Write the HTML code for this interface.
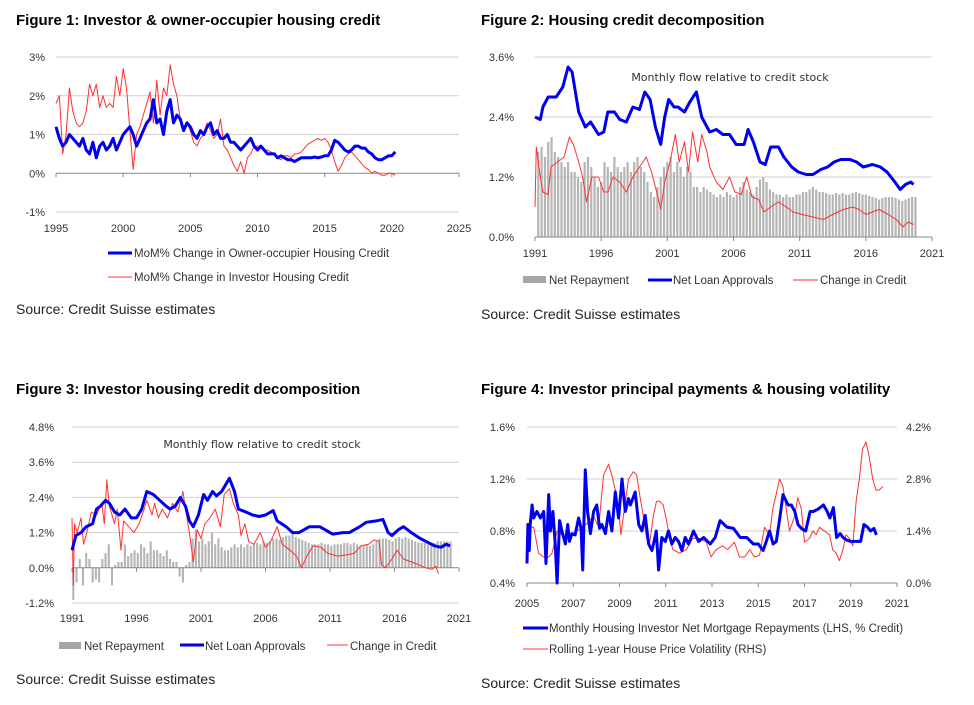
<!DOCTYPE html>
<html><head><meta charset="utf-8"><style>
body{margin:0;background:#fff;}
svg{display:block;font-family:"Liberation Sans",Arial,sans-serif;}
.t{font-size:15px;font-weight:bold;fill:#000}
.s{font-size:14px;fill:#222}
.tk{font-size:11px;fill:#333}
.lg{font-size:11.5px;fill:#333}
.an{font-size:11px;fill:#333;font-family:"DejaVu Sans","Liberation Sans",sans-serif}
</style></head><body>
<svg id="root" width="974" height="705" viewBox="0 0 974 705">
<text class="t" x="16" y="25">Figure 1: Investor &amp; owner-occupier housing credit</text>
<text class="t" x="481" y="25">Figure 2: Housing credit decomposition</text>
<text class="t" x="16" y="394">Figure 3: Investor housing credit decomposition</text>
<text class="t" x="481" y="394">Figure 4: Investor principal payments &amp; housing volatility</text>
<text class="s" x="16" y="314">Source: Credit Suisse estimates</text>
<text class="s" x="481" y="319">Source: Credit Suisse estimates</text>
<text class="s" x="16" y="684">Source: Credit Suisse estimates</text>
<text class="s" x="481" y="688">Source: Credit Suisse estimates</text>
<text class="an" x="730" y="81" text-anchor="middle">Monthly flow relative to credit stock</text>
<text class="an" x="262" y="448" text-anchor="middle">Monthly flow relative to credit stock</text>
<!-- legends -->
<line x1="108" y1="253" x2="132" y2="253" stroke="#0000ee" stroke-width="3"/>
<text class="lg" x="134" y="257">MoM% Change in Owner-occupier Housing Credit</text>
<line x1="108" y1="277" x2="132" y2="277" stroke="#ff3030" stroke-width="1"/>
<text class="lg" x="134" y="281">MoM% Change in Investor Housing Credit</text>

<rect x="523" y="276" width="23" height="7" fill="#a6a6a6"/>
<text class="lg" x="549" y="284">Net Repayment</text>
<line x1="648" y1="280" x2="672" y2="280" stroke="#0000ee" stroke-width="3"/>
<text class="lg" x="673" y="284">Net Loan Approvals</text>
<line x1="793" y1="280" x2="818" y2="280" stroke="#ff3030" stroke-width="1"/>
<text class="lg" x="820" y="284">Change in Credit</text>

<rect x="59" y="642" width="22" height="7" fill="#a6a6a6"/>
<text class="lg" x="84" y="650">Net Repayment</text>
<line x1="180" y1="645" x2="204" y2="645" stroke="#0000ee" stroke-width="3"/>
<text class="lg" x="205" y="650">Net Loan Approvals</text>
<line x1="327" y1="645" x2="348" y2="645" stroke="#ff3030" stroke-width="1"/>
<text class="lg" x="350" y="650">Change in Credit</text>

<line x1="523" y1="628" x2="548" y2="628" stroke="#0000ee" stroke-width="3"/>
<text class="lg" x="549" y="632">Monthly Housing Investor Net Mortgage Repayments (LHS, % Credit)</text>
<line x1="523" y1="649" x2="548" y2="649" stroke="#ff3030" stroke-width="1"/>
<text class="lg" x="549" y="653">Rolling 1-year House Price Volatility (RHS)</text>
</svg>
<script>
// ---------- Figure 1 data (quarterly from 1995) ----------
const c1Start = 1995;
const c1Owner = [1.2,0.9,0.7,0.8, 1.0,0.9,0.8,0.7, 0.9,0.6,0.5,0.8, 0.4,0.7,0.8,0.6, 0.7,0.9,0.6,0.8, 1.0,1.1,1.2,1.0, 0.7,0.9,1.1,1.3, 1.4,1.9,1.3,1.4, 1.0,1.6,1.9,1.3, 1.5,1.4,1.1,1.3, 1.2,1.0,0.9,1.1, 1.0,1.2,1.3,1.0, 1.1,0.9,0.9,1.0, 0.8,0.8,0.7,0.6, 0.7,0.8,0.9,0.7, 0.6,0.7,0.6,0.5, 0.5,0.5,0.4,0.45, 0.4,0.35,0.35,0.3, 0.35,0.4,0.4,0.4, 0.4,0.42,0.4,0.42, 0.45,0.45,0.6,0.85, 0.8,0.7,0.6,0.55, 0.6,0.7,0.7,0.65, 0.65,0.55,0.5,0.4, 0.35,0.35,0.4,0.45, 0.45,0.55];
const c1Investor = [1.8,2.0,0.5,1.0, 2.2,1.6,1.3,1.2, 1.3,1.6,2.3,2.0, 2.3,1.7,2.0,1.7, 1.8,1.7,2.5,2.0, 2.7,2.2,1.1,0.1, 1.0,1.2,1.5,1.8, 2.1,1.3,2.4,1.5, 2.2,2.0,2.8,2.3, 2.0,1.4,1.2,1.3, 1.1,0.8,0.7,0.9, 1.0,1.3,1.1,0.9, 1.0,1.4,0.7,0.6, 0.4,0.2,0.05,0.3, 0.0,0.4,0.5,0.7, 0.7,0.7,0.6,0.6, 0.55,0.5,0.4,0.35, 0.45,0.45,0.4,0.5, 0.5,0.55,0.65,0.75, 0.8,0.85,0.9,0.85, 0.9,0.8,0.6,0.3, 0.05,0.2,0.4,0.5, 0.55,0.45,0.35,0.25, 0.15,0.1,0.0,0.05, 0.0,-0.05,-0.05,0.0, 0.0,-0.05];
const c1YTicks = [3,2,1,0,-1];
const c1XTicks = [1995,2000,2005,2010,2015,2020,2025];

// ---------- Figure 2 data ----------
const c2BarStart = 1991.25;
const c2Repay = [1.7,1.8,1.6, 1.9,2.0,1.7,1.6, 1.5,1.4,1.5,1.3, 1.3,1.2,1.1,1.5, 1.6,1.4,1.2,1.0, 1.1,1.5,1.4,1.3, 1.6,1.4,1.3,1.4, 1.5,1.3,1.5,1.6, 1.4,1.3,1.1,0.9, 0.8,1.0,1.2,1.4, 1.5,1.6,1.3,1.5, 1.4,1.2,1.4,1.3, 1.0,1.0,0.9,1.0, 0.95,0.9,0.85,0.8, 0.85,0.8,0.9,0.85, 0.8,0.85,1.0,1.1, 0.95,0.9,0.85,1.0, 1.15,1.2,1.1,0.95, 0.9,0.85,0.85,0.8, 0.85,0.8,0.8,0.85, 0.85,0.9,0.9,0.95, 1.0,0.95,0.9,0.9, 0.88,0.85,0.85,0.88, 0.85,0.88,0.85,0.85, 0.88,0.9,0.88,0.85, 0.85,0.82,0.8,0.78, 0.75,0.78,0.8,0.8, 0.8,0.78,0.75,0.72, 0.75,0.78,0.8,0.8];
const c2ApprovalYears = [1991.0,1991.4,1991.6,1992.0,1992.6,1993.1,1993.5,1993.8,1994.3,1994.8,1995.2,1995.8,1996.2,1996.5,1997.0,1997.4,1997.9,1998.4,1998.9,1999.3,1999.7,2000.1,2000.5,2000.8,2001.1,2001.5,2001.8,2002.3,2002.7,2003.2,2003.6,2004.2,2004.7,2005.2,2005.7,2006.2,2006.8,2007.1,2007.5,2008.0,2008.4,2008.8,2009.4,2009.8,2010.4,2010.9,2011.5,2012.0,2012.6,2013.1,2013.6,2014.1,2014.8,2015.3,2015.8,2016.5,2017.1,2017.6,2018.2,2018.6,2019.0,2019.4,2019.6];
const c2Approvals = [2.4,2.35,2.6,2.8,2.8,3.0,3.4,3.3,2.5,2.2,2.3,2.05,2.1,2.5,2.5,2.35,2.3,2.6,2.55,2.9,2.75,2.2,1.85,2.4,2.75,2.6,2.6,2.5,2.7,2.9,2.4,2.1,2.15,2.05,2.05,1.85,1.85,2.15,1.9,1.5,1.45,1.8,1.8,1.6,1.4,1.3,1.25,1.25,1.35,1.4,1.5,1.55,1.55,1.5,1.4,1.45,1.4,1.3,1.1,0.95,1.05,1.1,1.05];
const c2CreditYears = [1991.0,1991.1,1991.4,1991.6,1992.0,1992.2,1992.7,1993.2,1993.6,1993.9,1994.3,1994.6,1994.9,1995.3,1995.8,1996.2,1996.5,1996.9,1997.4,1997.9,1998.4,1998.9,1999.4,1999.8,2000.2,2000.5,2000.8,2001.2,2001.6,2001.9,2002.3,2002.6,2002.9,2003.3,2003.6,2004.0,2004.2,2004.7,2005.2,2005.7,2006.1,2006.6,2007.0,2007.4,2007.9,2008.3,2008.8,2009.4,2010.0,2010.5,2011.2,2012.0,2012.8,2013.5,2014.3,2015.0,2015.5,2016.0,2016.5,2017.0,2017.7,2018.3,2018.8,2019.2,2019.6];
const c2Credit = [0.6,1.8,1.2,0.9,0.85,1.4,1.5,1.6,2.0,1.85,1.5,1.2,0.7,1.2,1.2,0.9,0.9,1.2,1.1,0.9,1.2,1.4,1.6,1.3,0.9,0.55,1.1,1.5,2.05,1.5,1.9,1.3,2.1,1.5,2.05,1.7,1.4,1.1,0.95,1.2,0.9,0.85,1.2,0.8,0.75,0.5,0.6,0.7,0.6,0.5,0.45,0.4,0.35,0.45,0.55,0.6,0.55,0.45,0.5,0.55,0.45,0.35,0.2,0.3,0.25];
const c2YTicks = [3.6,2.4,1.2,0.0];
const c2XTicks = [1991,1996,2001,2006,2011,2016,2021];

// ---------- Figure 3 data ----------
const c3BarStart = 1991.1;
const c3Repay = [-1.1,-0.5,0.3,-0.6, 0.5,0.3,-0.5,-0.4, -0.5,0.3,0.5,0.8, -0.6,0.1,0.2,0.2, 0.8,0.4,0.5,0.6, 0.5,0.8,0.7,0.5, 0.9,0.6,0.6,0.5, 0.4,0.6,0.3,0.2, 0.2,-0.3,-0.5,0.1, 0.2,1.0,1.3,0.9, 1.0,0.8,0.9,1.2, 0.8,1.0,0.7,0.6, 0.6,0.7,0.8,0.7, 0.8,0.7,0.8,0.75, 0.8,0.85,0.8,0.9, 0.85,0.9,1.0,1.0, 0.95,1.05,1.1,1.1, 1.15,1.05,1.0,0.95, 0.9,0.85,0.8,0.8, 0.8,0.85,0.8,0.8, 0.75,0.8,0.8,0.8, 0.85,0.85,0.8,0.85, 0.8,0.75,0.75,0.8, 0.75,0.8,0.9,1.0, 1.0,1.0,0.95,0.9, 1.0,1.05,1.0,1.05, 1.0,0.95,0.9,0.85, 0.85,0.85,0.8,0.85, 0.85,0.9,0.9,0.9, 0.9,0.9];
const c3ApprovalYears = [1991.0,1991.3,1991.7,1992.1,1992.6,1992.9,1993.2,1993.6,1993.9,1994.3,1994.7,1995.1,1995.6,1996.0,1996.4,1996.8,1997.3,1997.8,1998.3,1998.6,1999.0,1999.4,1999.8,2000.1,2000.4,2000.8,2001.2,2001.5,2001.9,2002.2,2002.6,2003.2,2003.6,2003.9,2004.5,2005.0,2005.5,2006.0,2006.6,2006.9,2007.6,2008.1,2008.6,2009.4,2010.2,2010.8,2011.2,2012.0,2012.5,2013.3,2013.8,2014.6,2015.1,2015.5,2015.8,2016.3,2016.7,2017.3,2018.0,2019.1,2019.6,2020.0,2020.3];
const c3Approvals = [0.6,1.1,1.2,1.4,1.5,2.0,2.1,2.3,2.2,1.9,1.8,2.0,1.7,1.7,2.0,2.6,2.5,2.3,2.1,2.0,2.1,2.4,2.1,1.6,1.4,1.8,2.5,2.3,2.6,2.45,2.6,3.05,2.6,2.0,1.9,1.8,1.75,1.8,1.95,1.6,1.4,1.2,1.2,1.4,1.4,1.25,1.15,1.2,1.2,1.4,1.55,1.6,1.65,1.2,1.1,1.3,1.4,1.2,1.0,0.75,0.7,0.8,0.75];
const c3CreditYears = [1991.0,1991.1,1991.2,1991.4,1991.7,1991.9,1992.2,1992.5,1992.9,1993.3,1993.5,1993.7,1993.9,1994.3,1994.5,1994.8,1995.0,1995.4,1995.8,1996.2,1996.6,1996.8,1997.2,1997.4,1997.7,1998.0,1998.4,1998.8,1999.2,1999.6,1999.8,2000.1,2000.4,2000.7,2001.0,2001.3,2001.7,2002.1,2002.5,2002.8,2003.2,2003.5,2003.9,2004.1,2004.4,2004.7,2005.1,2005.6,2006.0,2006.4,2006.9,2007.3,2007.9,2008.4,2008.8,2009.2,2009.7,2010.3,2010.8,2011.6,2012.4,2012.9,2013.4,2014.0,2014.4,2014.8,2015.0,2015.3,2015.8,2016.2,2016.7,2017.3,2017.9,2018.4,2018.9,2019.2,2019.4];
const c3Credit = [1.7,-0.6,1.5,1.2,1.7,0.8,1.3,1.9,1.8,2.2,1.5,3.0,2.1,1.5,2.0,0.6,1.6,1.4,1.2,1.5,2.0,2.3,1.8,2.2,1.7,2.0,1.7,2.2,1.9,2.6,2.0,1.2,0.2,1.3,1.0,1.5,1.7,2.0,1.4,2.5,2.7,2.2,1.8,1.1,1.5,0.9,0.8,1.2,0.7,0.9,1.4,0.8,0.6,0.4,0.0,0.4,0.75,0.7,0.5,0.4,0.45,0.5,0.75,0.8,0.95,0.9,0.1,0.0,0.3,0.6,0.3,0.2,0.1,0.0,-0.05,0.05,-0.2];
const c3YTicks = [4.8,3.6,2.4,1.2,0.0,-1.2];
const c3YLabels = ["4.8%","3.6%","2.4%","1.2%","0.0%","-1.2%"];
const c3XTicks = [1991,1996,2001,2006,2011,2016,2021];

// ---------- Figure 4 data ----------
const c4RepayYears = [2005.0,2005.04,2005.1,2005.14,2005.22,2005.29,2005.43,2005.58,2005.72,2005.82,2005.94,2006.01,2006.12,2006.22,2006.3,2006.41,2006.51,2006.66,2006.76,2006.84,2006.94,2007.08,2007.23,2007.34,2007.41,2007.52,2007.62,2007.74,2007.88,2008.02,2008.14,2008.24,2008.39,2008.53,2008.67,2008.82,2008.96,2009.11,2009.25,2009.39,2009.47,2009.68,2009.83,2009.97,2010.11,2010.26,2010.4,2010.47,2010.59,2010.69,2010.83,2010.98,2011.12,2011.26,2011.41,2011.55,2011.7,2011.84,2011.99,2012.2,2012.42,2012.64,2012.92,2013.14,2013.35,2013.64,2013.93,2014.22,2014.5,2014.79,2015.0,2015.21,2015.35,2015.49,2015.64,2015.78,2015.93,2016.07,2016.29,2016.43,2016.58,2016.72,2016.86,2017.05,2017.24,2017.38,2017.6,2017.82,2017.98,2018.1,2018.25,2018.39,2018.54,2018.67,2018.82,2019.0,2019.22,2019.43,2019.57,2019.72,2019.86,2020.0,2020.11];
const c4Repay = [0.55,0.85,0.65,0.85,1.0,0.9,0.95,0.9,0.95,0.55,1.08,0.8,0.95,0.7,0.4,0.88,0.8,0.7,0.85,0.72,0.78,0.77,0.9,0.82,0.5,1.27,0.95,0.78,0.95,1.0,0.82,0.85,0.78,0.95,0.8,1.1,0.9,1.2,0.95,1.05,1.0,1.1,0.85,0.8,0.92,0.7,0.65,0.7,0.8,0.5,0.75,0.72,0.8,0.7,0.75,0.72,0.65,0.75,0.7,0.8,0.72,0.75,0.7,0.75,0.88,0.83,0.82,0.75,0.75,0.7,0.7,0.65,0.72,0.8,0.7,0.72,0.9,1.08,1.0,1.0,0.95,0.85,0.82,0.8,0.95,0.95,0.97,1.0,0.95,0.9,0.98,0.75,0.78,0.75,0.73,0.72,0.72,0.72,0.85,0.83,0.8,0.82,0.77,0.9];
const c4VolYears = [2005.0,2005.14,2005.29,2005.5,2005.72,2005.94,2006.08,2006.3,2006.51,2006.73,2006.94,2007.16,2007.37,2007.59,2007.88,2008.1,2008.31,2008.53,2008.67,2008.82,2008.96,2009.06,2009.17,2009.39,2009.6,2009.75,2009.89,2010.03,2010.17,2010.31,2010.46,2010.6,2010.74,2010.89,2011.03,2011.17,2011.31,2011.6,2011.89,2012.17,2012.46,2012.75,2012.96,2013.18,2013.46,2013.68,2013.97,2014.19,2014.41,2014.63,2014.84,2015.06,2015.27,2015.49,2015.63,2015.78,2015.92,2016.07,2016.21,2016.35,2016.57,2016.71,2016.86,2017.0,2017.22,2017.36,2017.5,2017.65,2017.86,2018.08,2018.22,2018.37,2018.51,2018.66,2018.8,2018.94,2019.09,2019.23,2019.37,2019.51,2019.66,2019.8,2019.95,2020.09,2020.24,2020.38,2020.45];
const c4Vol = [1.4,1.5,1.5,0.8,0.7,0.7,0.8,1.4,1.3,1.2,1.3,1.4,1.5,1.6,1.8,1.5,2.9,3.2,2.9,2.5,2.0,1.3,1.8,2.8,3.0,2.9,2.3,1.8,1.2,1.1,1.8,2.2,2.2,2.1,1.7,1.2,0.9,0.8,0.9,1.2,1.2,1.1,0.7,0.9,1.0,0.9,1.1,0.7,0.7,0.9,0.7,0.75,1.5,1.3,2.0,2.4,2.8,2.6,2.0,1.4,1.8,2.3,2.0,1.1,1.2,1.4,1.3,1.5,1.4,1.3,0.9,0.8,0.6,0.9,1.3,1.2,1.0,2.2,2.8,3.6,3.8,3.4,2.8,2.5,2.5,2.6];
const c4LeftTicks = [1.6,1.2,0.8,0.4];
const c4RightTicks = [4.2,2.8,1.4,0.0];
const c4XTicks = [2005,2007,2009,2011,2013,2015,2017,2019,2021];

const NS = 'http://www.w3.org/2000/svg';
const root = document.getElementById('root');
function mk(tag, attrs, parent) {
  const e = document.createElementNS(NS, tag);
  for (const k in attrs) e.setAttribute(k, attrs[k]);
  (parent || root).appendChild(e);
  return e;
}
function lin(d0, d1, r0, r1) { return v => r0 + (v - d0) / (d1 - d0) * (r1 - r0); }
function pathFrom(xs, ys, sx, sy) {
  let d = '';
  for (let i = 0; i < ys.length; i++) d += (i ? 'L' : 'M') + sx(xs[i]).toFixed(1) + ',' + sy(ys[i]).toFixed(1);
  return d;
}

function grid(g, ticks, sy, x0, x1) {
  ticks.forEach(t => {
    const l = mk('line', {x1: x0, x2: x1, y1: sy(t), y2: sy(t), stroke: '#d0d0d0', 'stroke-width': 1}, g);
    
    
  });
}
function yLabels(g, ticks, labels, sy, x, anchor) {
  ticks.forEach((t, i) => {
    const tx = mk('text', {x: x, y: sy(t) + 4, 'text-anchor': anchor, class: 'tk'}, g);
    tx.textContent = labels[i];
    
    
  });
}
function xAxis(g, ticks, sx, yAxis, yLab) {
  const ax = mk('line', {x1: sx(ticks[0]), x2: sx(ticks[ticks.length - 1]), y1: yAxis, y2: yAxis, stroke: '#888', 'stroke-width': 1}, g);
  
  
  ticks.forEach(t => {
    const tk = mk('line', {x1: sx(t), x2: sx(t), y1: yAxis, y2: yAxis + 4, stroke: '#888'}, g);
    
    
    const tx = mk('text', {x: sx(t), y: yLab, 'text-anchor': 'middle', class: 'tk'}, g);
    tx.textContent = t;
    
    
  });
}
function bars(g, start, vals, sx, sy, w) {
  vals.forEach((v, i) => {
    const x = sx(start + i * 0.25);
    const y0 = sy(0), y1 = sy(v);
    const r = mk('rect', {x: x - w / 2, y: Math.min(y0, y1), width: w, height: Math.abs(y1 - y0), fill: '#b5b5b5'}, g);
    
    
  });
}
function series(g, xs, ys, sx, sy, color, w, name) {
  const p = mk('path', {d: pathFrom(xs, ys, sx, sy), fill: 'none', stroke: color, 'stroke-width': w, 'stroke-linejoin': 'round'}, g);
  
  
}

// ---- Figure 1 ----
const g1 = mk('g', {});


const sx1 = lin(1995, 2025, 56, 459), sy1 = lin(3, -1, 57, 212);
grid(g1, c1YTicks.filter(t => t !== 0), sy1, 56, 459);
yLabels(g1, c1YTicks, c1YTicks.map(t => t + '%'), sy1, 45, 'end');
xAxis(g1, c1XTicks, sx1, sy1(0), 232);
const c1Years = c1Owner.map((v, i) => c1Start + i * 0.25);
series(g1, c1Years, c1Investor, sx1, sy1, '#ff3030', 1, 'investor-credit-line');
series(g1, c1Years, c1Owner, sx1, sy1, '#0000ee', 3, 'owner-occupier-credit-line');

// ---- Figure 2 ----
const g2 = mk('g', {});


const sx2 = lin(1991, 2021, 535, 932), sy2 = lin(3.6, 0, 57, 237);
grid(g2, c2YTicks.filter(t => t !== 0), sy2, 535, 932);
yLabels(g2, c2YTicks, c2YTicks.map(t => t.toFixed(1) + '%'), sy2, 514, 'end');
bars(g2, c2BarStart, c2Repay, sx2, sy2, 2.2);
xAxis(g2, c2XTicks, sx2, sy2(0), 257);
series(g2, c2CreditYears, c2Credit, sx2, sy2, '#ff3030', 1, 'change-in-credit-line');
series(g2, c2ApprovalYears, c2Approvals, sx2, sy2, '#0000ee', 3, 'net-loan-approvals-line');

// ---- Figure 3 ----
const g3 = mk('g', {});


const sx3 = lin(1991, 2021, 72, 459), sy3 = lin(4.8, -1.2, 427, 603);
grid(g3, c3YTicks.filter(t => t !== 0), sy3, 72, 459);
yLabels(g3, c3YTicks, c3YLabels, sy3, 54, 'end');
bars(g3, c3BarStart, c3Repay, sx3, sy3, 2.1);
xAxis(g3, c3XTicks, sx3, sy3(0), 622);
series(g3, c3CreditYears, c3Credit, sx3, sy3, '#ff3030', 1, 'change-in-credit-line');
series(g3, c3ApprovalYears, c3Approvals, sx3, sy3, '#0000ee', 3, 'net-loan-approvals-line');

// ---- Figure 4 ----
const g4 = mk('g', {});


const sx4 = lin(2005, 2021, 527, 897), sy4 = lin(1.6, 0.4, 427, 583), sy4r = lin(4.2, 0, 427, 583);
grid(g4, c4LeftTicks.slice(0, 3), sy4, 527, 897);
yLabels(g4, c4LeftTicks, c4LeftTicks.map(t => t.toFixed(1) + '%'), sy4, 515, 'end');
yLabels(g4, c4RightTicks, c4RightTicks.map(t => t.toFixed(1) + '%'), sy4r, 906, 'start');
xAxis(g4, c4XTicks, sx4, 583, 607);
series(g4, c4VolYears, c4Vol, sx4, sy4r, '#ff3030', 1, 'house-price-volatility-line');
series(g4, c4RepayYears, c4Repay, sx4, sy4, '#0000ee', 3, 'investor-repayments-line');
</script>
</body></html>
